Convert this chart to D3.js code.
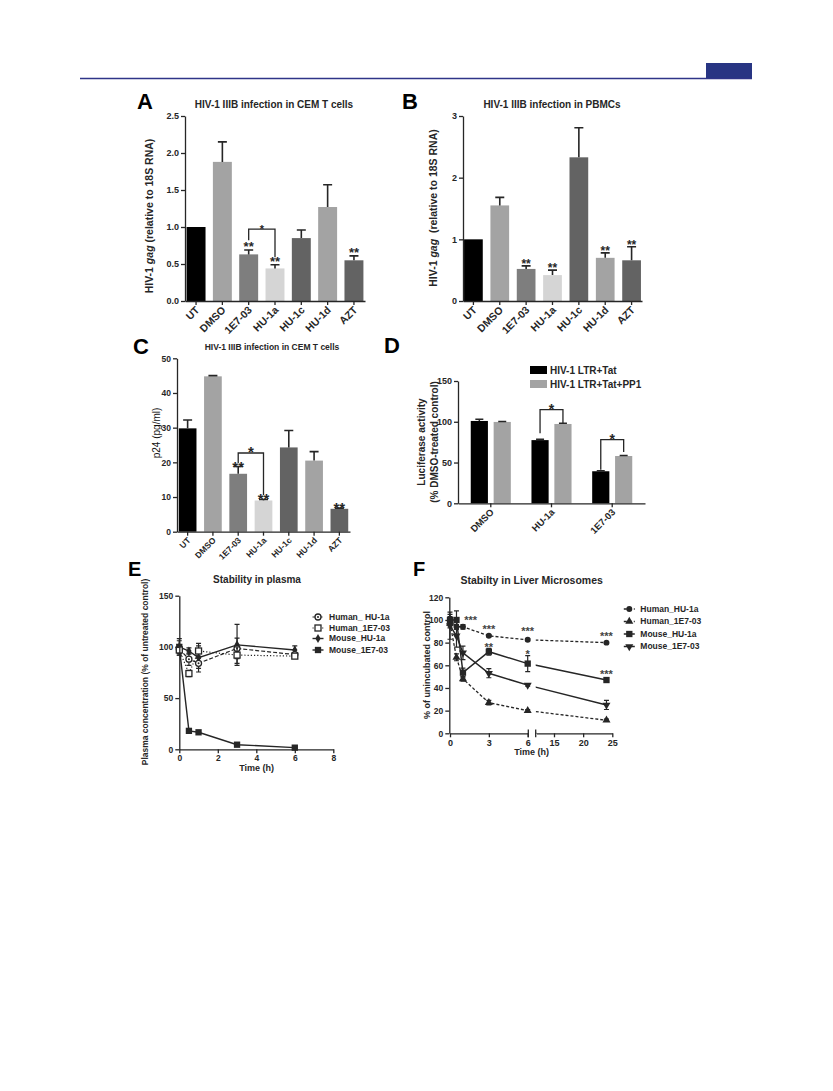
<!DOCTYPE html>
<html>
<head>
<meta charset="utf-8">
<script src="https://cdn.jsdelivr.net/npm/d3@7"></script>
<style>
body { margin: 0; background: #fff; }
svg text { font-family: "Liberation Sans", Arial, sans-serif; font-weight: bold; }
</style>
</head>
<body>
<script>
// ---- data ----
var drugs = ['UT', 'DMSO', '1E7-03', 'HU-1a', 'HU-1c', 'HU-1d', 'AZT'];

// A: HIV-1 gag RNA, CEM T cells
var aValues = [1.0, 1.88, 0.63, 0.44, 0.85, 1.27, 0.55];
var aErrors = [0, 0.27, 0.06, 0.05, 0.11, 0.30, 0.06];
var aStars = ['', '', '**', '**', '', '', '**'];
var aTicks = [0, 0.5, 1.0, 1.5, 2.0, 2.5];
var aBracketPair = ['1E7-03', 'HU-1a'];
var aBracketLevels = [0.97, 0.82, 0.59];   // top, left foot, right foot

// B: HIV-1 gag RNA, PBMCs
var bValues = [1.0, 1.55, 0.52, 0.42, 2.33, 0.70, 0.66];
var bErrors = [0, 0.13, 0.05, 0.08, 0.48, 0.08, 0.22];
var bStars = ['', '', '**', '**', '', '**', '**'];
var bTicks = [0, 1, 2, 3];

// C: p24, CEM T cells
var cValues = [29.8, 44.8, 16.7, 9.0, 24.3, 20.5, 6.6];
var cErrors = [2.4, 0.2, 2.1, 0.3, 4.9, 2.6, 0.2];
var cStars = ['', '', '**', '**', '', '', '**'];
var cTicks = [0, 10, 20, 30, 40, 50];
var cBracketPair = ['1E7-03', 'HU-1a'];
var cBracketLevels = [22.7, 19.8, 10.6];

// D: luciferase
var dGroups = ['DMSO', 'HU-1a', '1E7-03'];
var dSeries = ['HIV-1 LTR+Tat', 'HIV-1 LTR+Tat+PP1'];
var dTat = [101, 77.5, 39.3];
var dTatErr = [2, 1, 0.5];
var dPP1 = [99.8, 97.3, 58];
var dPP1Err = [0.6, 0.8, 0.6];
var dTicks = [0, 50, 100, 150];
var dBracketGroups = ['HU-1a', '1E7-03'];
var dBracketTop = [115, 78];
var dBracketLeft = [86, 41];
var dBracketRight = [98, 63];

// E: stability in plasma
var eNames = ['Human_ HU-1a', 'Human_1E7-03', 'Mouse_HU-1a', 'Mouse_1E7-03'];
var eTimes = [0, 0.5, 1, 3, 6];
var eHumanHU1a = [98, 88, 84, 98.5, 92.5];
var eHumanHU1aErr = [4, 6, 5, 10, 2];
var eHuman1E703 = [97, 74, 96, 92, 91];
var eHuman1E703Err = [5, 3, 5, 8, 2];
var eMouseHU1a = [100, 96, 89.5, 102, 97];
var eMouseHU1aErr = [6, 3, 14, 20, 4];
var eMouse1E703 = [100, 18, 16.6, 4.5, 1.6];
var eMouse1E703Err = [8, 1, 1, 1, 1];
var eXTicks = [0, 2, 4, 6, 8];
var eYTicks = [0, 50, 100, 150];

// F: stability in liver microsomes
var fNames = ['Human_HU-1a', 'Human_1E7-03', 'Mouse_HU-1a', 'Mouse_1E7-03'];
var fTimes = [0, 0.5, 1, 3, 6, 24];
var fHumanHU1a = [100, 94, 94, 86, 82.5, 80];
var fHumanHU1aErr = [3, 2, 2, 1, 1, 1];
var fHuman1E703 = [97, 67, 48, 27, 20, 11.5];
var fHuman1E703Err = [4, 3, 2, 2, 1, 1];
var fMouseHU1a = [100, 100, 53.5, 72, 61.5, 47];
var fMouseHU1aErr = [5, 8, 4, 3, 7, 1];
var fMouse1E703 = [95, 86, 71, 53, 42.5, 25];
var fMouse1E703Err = [12, 10, 6, 4, 1, 4];
var fYTicks = [0, 20, 40, 60, 80, 100, 120];
var fStarLabels = ['***', '***', '**', '***', '*', '***', '***'];
var fStarTimes = [1.6, 3, 3, 6, 6, 24, 24];
var fStarValues = [101.8, 94, 78.5, 92, 72, 87.6, 54.4];

// ---- styles ----
var INK = '#262626';
var SHADES = ['#000000', '#a3a3a3', '#7e7e7e', '#d5d5d5', '#636363', '#a3a3a3', '#636363'];
var D_SHADES = ['#000000', '#a3a3a3'];

var svg = d3.select('body').append('svg')
	.attr('width', 833)
	.attr('height', 1091);

svg.append('rect').attr('width', 833).attr('height', 1091).attr('fill', '#fff');

// page header rule
svg.append('line')
	.attr('x1', 80).attr('x2', 752).attr('y1', 78.5).attr('y2', 78.5)
	.attr('stroke', '#2f3488').attr('stroke-width', 1.5);
svg.append('rect')
	.attr('x', 706).attr('y', 63).attr('width', 46).attr('height', 15)
	.attr('fill', '#283583');

function label(g, x, y, str, fs, anchor, color) {
	return g.append('text')
		.attr('x', x).attr('y', y)
		.attr('text-anchor', anchor || 'start')
		.attr('fill', color || INK)
		.style('font-size', fs + 'px')
		.text(str);
}

function vlabel(g, x, y, str, fs) {
	return g.append('text')
		.attr('transform', 'translate(' + x + ',' + y + ') rotate(-90)')
		.attr('text-anchor', 'middle')
		.attr('fill', INK)
		.style('font-size', fs + 'px')
		.text(str);
}

function styleAxis(sel, fs) {
	sel.attr('font-family', null).attr('font-size', null);
	sel.select('.domain').attr('stroke', INK).attr('stroke-width', 1.3);
	sel.selectAll('.tick line').attr('stroke', INK).attr('stroke-width', 1.3);
	sel.selectAll('.tick text').attr('fill', INK).style('font-size', fs + 'px');
}

function rotateTicks(sel) {
	sel.selectAll('.tick text')
		.attr('text-anchor', 'end')
		.attr('x', -4).attr('y', 6).attr('dy', '0.35em')
		.attr('transform', 'rotate(-45)');
}

function bracket(g, x1, x2, yTop, yL, yR, fs) {
	g.append('path')
		.attr('d', 'M' + x1 + ',' + yL + 'V' + yTop + 'H' + x2 + 'V' + yR)
		.attr('fill', 'none').attr('stroke', INK).attr('stroke-width', 1.3);
	label(g, (x1 + x2) / 2, yTop + 4, '*', fs, 'middle');
}

// ---- bar panels A, B, C ----
function barPanel(p) {
	var g = svg.append('g');
	var x = d3.scaleBand().domain(drugs).range([p.left, p.right])
		.paddingInner(p.pi).paddingOuter(p.po);
	var y = d3.scaleLinear().domain([0, p.max]).range([p.bottom, p.top]);
	var bw = x.bandwidth();

	g.selectAll('.bar').data(p.values).enter().append('rect')
		.attr('class', 'bar')
		.attr('x', function(d, i) { return x(drugs[i]); })
		.attr('y', function(d) { return y(d); })
		.attr('width', bw)
		.attr('height', function(d) { return y(0) - y(d); })
		.attr('fill', function(d, i) { return SHADES[i]; });

	p.values.forEach(function(v, i) {
		var e = p.errors[i];
		var cx = x(drugs[i]) + bw / 2;
		if (e > 0) {
			g.append('path')
				.attr('d', 'M' + cx + ',' + y(v) + 'V' + y(v + e) +
					'M' + (cx - 4.5) + ',' + y(v + e) + 'H' + (cx + 4.5))
				.attr('fill', 'none').attr('stroke', INK).attr('stroke-width', 1.6);
		}
		if (p.stars[i]) label(g, cx, y(v + e) + p.starDy, p.stars[i], p.starFs, 'middle');
	});

	var ya = g.append('g').attr('transform', 'translate(' + p.left + ',0)')
		.call(d3.axisLeft(y).tickValues(p.ticks).tickFormat(p.fmt).tickSize(4).tickPadding(2).tickSizeOuter(0));
	styleAxis(ya, p.tickFs);

	var xa = g.append('g').attr('transform', 'translate(0,' + p.bottom + ')')
		.call(d3.axisBottom(x).tickSize(4).tickSizeOuter(0));
	styleAxis(xa, p.xFs);
	rotateTicks(xa);

	if (p.bracketPair) {
		var lv = p.bracketLevels;
		bracket(g, x(p.bracketPair[0]) + bw / 2, x(p.bracketPair[1]) + bw / 2,
			y(lv[0]), y(lv[1]), y(lv[2]), p.bracketFs);
	}
	return g;
}

var gA = barPanel({
	left: 185, right: 365, top: 116, bottom: 301, max: 2.5, pi: 0.28, po: 0.06,
	values: aValues, errors: aErrors, stars: aStars, ticks: aTicks, fmt: d3.format('.1f'),
	tickFs: 9, xFs: 10.5, starFs: 13, starDy: 1,
	bracketPair: aBracketPair, bracketLevels: aBracketLevels, bracketFs: 11
});
label(gA, 137, 109, 'A', 22, 'start', '#000');
label(gA, 274, 108, 'HIV-1 IIIB infection in CEM T cells', 10, 'middle');
var aY = vlabel(gA, 152.5, 216, '', 10.5);
aY.append('tspan').text('HIV-1 ');
aY.append('tspan').style('font-style', 'italic').text('gag');
aY.append('tspan').text(' (relative to 18S RNA)');

var gB = barPanel({
	left: 463, right: 642, top: 116, bottom: 301, max: 3, pi: 0.29, po: 0.04,
	values: bValues, errors: bErrors, stars: bStars, ticks: bTicks, fmt: d3.format('d'),
	tickFs: 9, xFs: 10.5, starFs: 12, starDy: 2
});
label(gB, 402, 109, 'B', 22, 'start', '#000');
label(gB, 552, 108, 'HIV-1 IIIB infection in PBMCs', 10, 'middle');
var bY = vlabel(gB, 436.5, 208, '', 10.5);
bY.append('tspan').text('HIV-1 ');
bY.append('tspan').style('font-style', 'italic').text('gag');
bY.append('tspan').attr('xml:space', 'preserve').text('  (relative to 18S RNA)');

var gC = barPanel({
	left: 177, right: 350, top: 358.3, bottom: 531.7, max: 50, pi: 0.3, po: 0.07,
	values: cValues, errors: cErrors, stars: cStars, ticks: cTicks, fmt: d3.format('d'),
	tickFs: 8.5, xFs: 8.5, starFs: 15, starDy: 5,
	bracketPair: cBracketPair, bracketLevels: cBracketLevels, bracketFs: 15
});
label(gC, 133, 354, 'C', 22, 'start', '#000');
label(gC, 272, 350, 'HIV-1 IIIB infection in CEM T cells', 8.5, 'middle');
vlabel(gC, 160, 433, 'p24 (pg/ml)', 10).style('font-weight', 'normal').attr('fill', '#111');

// ---- D: grouped bars ----
(function() {
	var g = svg.append('g');
	var x0 = d3.scaleBand().domain(dGroups).range([458, 645]).paddingInner(0.34).paddingOuter(0.21);
	var x1 = d3.scaleBand().domain(dSeries).range([0, x0.bandwidth()]).paddingInner(0.25);
	var y = d3.scaleLinear().domain([0, 150]).range([503.3, 381]);
	var cols = [[dTat, dTatErr], [dPP1, dPP1Err]];

	cols.forEach(function(c, s) {
		g.selectAll('.bar' + s).data(c[0]).enter().append('rect')
			.attr('x', function(d, i) { return x0(dGroups[i]) + x1(dSeries[s]); })
			.attr('y', function(d) { return y(d); })
			.attr('width', x1.bandwidth())
			.attr('height', function(d) { return y(0) - y(d); })
			.attr('fill', D_SHADES[s]);
		c[0].forEach(function(v, i) {
			var cx = x0(dGroups[i]) + x1(dSeries[s]) + x1.bandwidth() / 2;
			var e = c[1][i];
			g.append('path')
				.attr('d', 'M' + cx + ',' + y(v) + 'V' + y(v + e) +
					'M' + (cx - 4) + ',' + y(v + e) + 'H' + (cx + 4))
				.attr('fill', 'none').attr('stroke', INK).attr('stroke-width', 1.5);
		});
	});

	dBracketGroups.forEach(function(grp, k) {
		var xa = x0(grp) + x1(dSeries[0]) + x1.bandwidth() / 2;
		var xb = x0(grp) + x1(dSeries[1]) + x1.bandwidth() / 2;
		bracket(g, xa, xb, y(dBracketTop[k]), y(dBracketLeft[k]), y(dBracketRight[k]), 14);
	});

	var ya = g.append('g').attr('transform', 'translate(458,0)')
		.call(d3.axisLeft(y).tickValues(dTicks).tickSize(4).tickPadding(2).tickSizeOuter(0));
	styleAxis(ya, 9);
	var xa = g.append('g').attr('transform', 'translate(0,503.3)')
		.call(d3.axisBottom(x0).tickSize(4).tickSizeOuter(0));
	styleAxis(xa, 9.5);
	rotateTicks(xa);

	dSeries.forEach(function(s, k) {
		g.append('rect').attr('x', 530).attr('y', 366 + k * 14).attr('width', 17).attr('height', 8)
			.attr('fill', D_SHADES[k]);
		label(g, 550, 374 + k * 14, s, 10);
	});

	label(g, 384, 353, 'D', 22, 'start', '#000');
	vlabel(g, 425, 442, 'Luciferase activity', 10);
	vlabel(g, 437.5, 442, '(% DMSO-treated control)', 10);
})();

// ---- markers for line panels ----
function marker(g, type, cx, cy) {
	var sym = d3.symbol();
	var t = 'translate(' + cx + ',' + cy + ')';
	if (type === 'ocircle') {
		g.append('circle').attr('cx', cx).attr('cy', cy).attr('r', 3)
			.attr('fill', '#fff').attr('stroke', INK).attr('stroke-width', 1.3);
		g.append('circle').attr('cx', cx).attr('cy', cy).attr('r', 1).attr('fill', INK);
	} else if (type === 'osquare') {
		g.append('rect').attr('x', cx - 3).attr('y', cy - 3).attr('width', 6).attr('height', 6)
			.attr('fill', '#fff').attr('stroke', INK).attr('stroke-width', 1.3);
	} else if (type === 'diamond') {
		g.append('path').attr('transform', t).attr('d', sym.type(d3.symbolDiamond).size(24)()).attr('fill', INK);
	} else if (type === 'square') {
		g.append('path').attr('transform', t).attr('d', sym.type(d3.symbolSquare).size(40)()).attr('fill', INK);
	} else if (type === 'circle') {
		g.append('path').attr('transform', t).attr('d', sym.type(d3.symbolCircle).size(28)()).attr('fill', INK);
	} else if (type === 'tri') {
		g.append('path').attr('transform', t).attr('d', sym.type(d3.symbolTriangle).size(28)()).attr('fill', INK);
	} else if (type === 'itri') {
		g.append('path').attr('transform', t + ' rotate(180)').attr('d', sym.type(d3.symbolTriangle).size(28)()).attr('fill', INK);
	}
}

function series(g, x, y, times, vals, errs, st, clip) {
	var line = d3.line()
		.x(function(d, i) { return x(times[i]); })
		.y(function(d) { return y(d); });
	var p = g.append('path').datum(vals)
		.attr('d', line)
		.attr('fill', 'none').attr('stroke', INK).attr('stroke-width', st.w)
		.attr('stroke-dasharray', st.dash);
	if (clip) p.attr('clip-path', 'url(#' + clip + ')');
	vals.forEach(function(v, i) {
		var cx = x(times[i]), e = errs[i];
		g.append('path')
			.attr('d', 'M' + cx + ',' + y(v - e) + 'V' + y(v + e) +
				'M' + (cx - 2.5) + ',' + y(v + e) + 'H' + (cx + 2.5) +
				'M' + (cx - 2.5) + ',' + y(v - e) + 'H' + (cx + 2.5))
			.attr('fill', 'none').attr('stroke', INK).attr('stroke-width', 1.2);
	});
	vals.forEach(function(v, i) { marker(g, st.mark, x(times[i]), y(v)); });
}

function legendRow(g, x, yc, name, st, fs) {
	g.append('line').attr('x1', x - 5.5).attr('x2', x + 5.5).attr('y1', yc).attr('y2', yc)
		.attr('stroke', INK).attr('stroke-width', st.w).attr('stroke-dasharray', st.dash);
	marker(g, st.mark, x, yc);
	label(g, x + 11, yc, name, fs).attr('dy', '0.35em');
}

// ---- E ----
(function() {
	var g = svg.append('g');
	var x = d3.scaleLinear().domain([0, 8]).range([179.3, 333.3]);
	var y = d3.scaleLinear().domain([0, 150]).range([749.3, 595.7]);
	var styles = [
		{ dash: '4,2', w: 1.2, mark: 'ocircle' },
		{ dash: '1.2,2', w: 1.2, mark: 'osquare' },
		{ dash: null, w: 1.4, mark: 'diamond' },
		{ dash: null, w: 1.4, mark: 'square' }
	];
	var vals = [eHumanHU1a, eHuman1E703, eMouseHU1a, eMouse1E703];
	var errs = [eHumanHU1aErr, eHuman1E703Err, eMouseHU1aErr, eMouse1E703Err];
	[3, 2, 0, 1].forEach(function(k) { series(g, x, y, eTimes, vals[k], errs[k], styles[k]); });

	var ya = g.append('g').attr('transform', 'translate(179.3,0)')
		.call(d3.axisLeft(y).tickValues(eYTicks).tickSize(4).tickPadding(2).tickSizeOuter(0));
	styleAxis(ya, 8.5);
	var xa = g.append('g').attr('transform', 'translate(0,749.3)')
		.call(d3.axisBottom(x).tickValues(eXTicks).tickSize(4).tickPadding(2).tickSizeOuter(0));
	styleAxis(xa, 8.5);

	var rows = [617, 628, 638.5, 650];
	eNames.forEach(function(n, k) { legendRow(g, 318, rows[k], n, styles[k], 8.5); });

	label(g, 128, 576, 'E', 20, 'start', '#000');
	label(g, 257, 583, 'Stability in plasma', 10, 'middle');
	label(g, 256.7, 771, 'Time (h)', 9, 'middle');
	vlabel(g, 148, 672, 'Plasma concentration (% of untreated control)', 8.5);
})();

// ---- F (broken x axis) ----
(function() {
	var g = svg.append('g');
	var x = d3.scaleLinear().domain([0, 6, 12, 25]).range([450, 527.7, 536.5, 612.3]);
	var x1 = d3.scaleLinear().domain([0, 6]).range([450, 527.7]);
	var x2 = d3.scaleLinear().domain([12, 25]).range([536.5, 612.3]);
	var y = d3.scaleLinear().domain([0, 120]).range([733.3, 597.3]);

	var cp = svg.append('clipPath').attr('id', 'fgap');
	cp.append('rect').attr('x', 440).attr('y', 585).attr('width', 528.3 - 440).attr('height', 160);
	cp.append('rect').attr('x', 535.7).attr('y', 585).attr('width', 90).attr('height', 160);

	var styles = [
		{ dash: '3,2', w: 1.3, mark: 'circle' },
		{ dash: '3,2', w: 1.3, mark: 'tri' },
		{ dash: null, w: 1.5, mark: 'square' },
		{ dash: null, w: 1.5, mark: 'itri' }
	];
	var vals = [fHumanHU1a, fHuman1E703, fMouseHU1a, fMouse1E703];
	var errs = [fHumanHU1aErr, fHuman1E703Err, fMouseHU1aErr, fMouse1E703Err];
	[0, 1, 3, 2].forEach(function(k) { series(g, x, y, fTimes, vals[k], errs[k], styles[k], 'fgap'); });

	fStarLabels.forEach(function(s, i) {
		label(g, x(fStarTimes[i]), y(fStarValues[i]), s, 11, 'middle', '#444').attr('dy', '0.58em');
	});

	var fmt = d3.format('d');
	var ya = g.append('g').attr('transform', 'translate(449.3,0)')
		.call(d3.axisLeft(y).tickValues(fYTicks).tickSize(4).tickPadding(2).tickSizeOuter(0));
	styleAxis(ya, 8.5);
	var xa1 = g.append('g').attr('transform', 'translate(0,733.3)')
		.call(d3.axisBottom(x1).tickValues([0, 3, 6]).tickFormat(fmt).tickSize(4).tickPadding(2).tickSizeOuter(0));
	styleAxis(xa1, 9);
	var xa2 = g.append('g').attr('transform', 'translate(0,733.3)')
		.call(d3.axisBottom(x2).tickValues([15, 20, 25]).tickFormat(fmt).tickSize(4).tickPadding(2).tickSizeOuter(0));
	styleAxis(xa2, 9);
	[528.3, 535.7].forEach(function(bx) {
		g.append('line').attr('x1', bx).attr('x2', bx).attr('y1', 729.5).attr('y2', 737.3)
			.attr('stroke', INK).attr('stroke-width', 1.3);
	});
	g.append('line').attr('x1', 535.7).attr('x2', 536.5).attr('y1', 733.3).attr('y2', 733.3)
		.attr('stroke', INK).attr('stroke-width', 1.3);

	var rows = [609, 621.5, 634, 646.5];
	fNames.forEach(function(n, k) { legendRow(g, 629.3, rows[k], n, styles[k], 8.5); });

	label(g, 413, 576, 'F', 20, 'start', '#000');
	label(g, 531.7, 584, 'Stabilty in Liver Microsomes', 10.5, 'middle');
	label(g, 531.7, 755, 'Time (h)', 9, 'middle');
	vlabel(g, 430, 665, '% of unincubated control', 9);
})();
</script>
</body>
</html>
